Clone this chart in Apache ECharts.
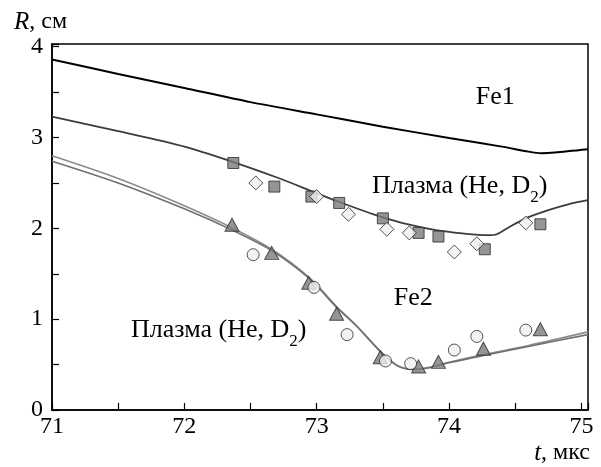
<!DOCTYPE html>
<html>
<head>
<meta charset="utf-8">
<script src="https://cdn.jsdelivr.net/npm/echarts@6/dist/echarts.min.js"></script>
<style>
html,body{margin:0;padding:0;background:#fff;}
#c{width:601px;height:467px;}
</style>
</head>
<body>
<div id="c"></div>
<script>
// ---- data ----
const xTickLabels = [71, 72, 73, 74, 75];
const yTickLabels = [0, 1, 2, 3, 4];

const fe1T = [71, 71.5, 72, 72.5, 73, 73.5, 74, 74.4, 74.6, 74.7, 74.8, 75.05];
const fe1R = [3.86, 3.70, 3.545, 3.39, 3.255, 3.12, 2.995, 2.90, 2.845, 2.828, 2.835, 2.87];

const plasmaT = [71, 71.5, 72, 72.37, 72.7, 72.98, 73.17, 73.5, 73.7, 73.9, 74.1, 74.3, 74.36, 74.45, 74.58, 74.75, 74.9, 75.05];
const plasmaR = [3.23, 3.07, 2.90, 2.73, 2.56, 2.40, 2.29, 2.12, 2.04, 1.98, 1.945, 1.925, 1.935, 2.01, 2.11, 2.20, 2.265, 2.31];

const fe2T  = [71, 71.5, 72, 72.37, 72.66, 72.95, 73.15, 73.3, 73.48, 73.6, 73.68, 73.75, 73.85, 74.0, 74.26, 74.6, 75.05];
const fe2aR = [2.80, 2.55, 2.25, 2.00, 1.77, 1.45, 1.14, 0.93, 0.65, 0.50, 0.455, 0.45, 0.47, 0.525, 0.61, 0.71, 0.86];
const fe2bR = [2.74, 2.50, 2.215, 1.975, 1.755, 1.44, 1.13, 0.925, 0.645, 0.495, 0.452, 0.447, 0.465, 0.52, 0.60, 0.70, 0.83];

const sqT = [72.37, 72.68, 72.96, 73.17, 73.5, 73.77, 73.92, 74.27, 74.69];
const sqR = [2.72, 2.46, 2.35, 2.28, 2.11, 1.95, 1.91, 1.77, 2.045];

const diT = [72.54, 73.0, 73.24, 73.53, 73.70, 74.04, 74.21, 74.58];
const diR = [2.50, 2.35, 2.155, 1.99, 1.95, 1.74, 1.83, 2.06];

const trT = [72.36, 72.66, 72.94, 73.15, 73.48, 73.77, 73.92, 74.26, 74.69];
const trR = [2.04, 1.73, 1.40, 1.06, 0.58, 0.48, 0.53, 0.675, 0.89];

const ciT = [72.52, 72.98, 73.23, 73.52, 73.71, 74.04, 74.21, 74.58];
const ciR = [1.71, 1.35, 0.83, 0.54, 0.51, 0.66, 0.81, 0.88];

// annotation positions (data coords)
const notes = [
  {t: 74.35, r: 3.45, text: 'Fe1'},
  {t: 74.08, r: 2.47, text: 'Плазма (He, D{s|2})'},
  {t: 73.73, r: 1.23, text: 'Fe2'},
  {t: 72.26, r: 0.88, text: 'Плазма (He, D{s|2})'}
];

const zip = (a, b) => a.map((v, i) => [v, b[i]]);
const FONT = 'Liberation Serif';

const chart = echarts.init(document.getElementById('c'), null, {renderer: 'canvas'});

const mk = (color, border) => ({color: color, borderColor: border, borderWidth: 1});

const option = {
  animation: false,
  backgroundColor: '#fff',
  grid: {left: 52, right: 13, top: 44, bottom: 57, show: true, borderColor: '#000', borderWidth: 1.5, backgroundColor: 'transparent'},
  xAxis: {
    type: 'value', min: 71, max: 75.05, interval: 0.5,
    axisLine: {show: true, lineStyle: {color: '#000', width: 1.5}},
    axisTick: {show: true, inside: true, length: 7, lineStyle: {color: '#000', width: 1.2}},
    splitLine: {show: false},
    axisLabel: {
      show: true, margin: 5, color: '#000', fontFamily: FONT, fontSize: 24,
      showMinLabel: true, showMaxLabel: true,
      formatter: v => (xTickLabels.indexOf(Math.round(v * 1000) / 1000) >= 0 ? String(Math.round(v)) : '')
    }
  },
  yAxis: {
    type: 'value', min: 0, max: 4.03, interval: 0.5,
    axisLine: {show: true, lineStyle: {color: '#000', width: 1.5}},
    axisTick: {show: true, inside: true, length: 7, lineStyle: {color: '#000', width: 1.2}},
    splitLine: {show: false},
    axisLabel: {
      show: true, margin: 9, color: '#000', fontFamily: FONT, fontSize: 24,
      showMinLabel: true, showMaxLabel: true,
      formatter: v => (yTickLabels.indexOf(Math.round(v * 1000) / 1000) >= 0 ? String(Math.round(v)) : '')
    }
  },
  series: [
    {type: 'line', data: zip(fe1T, fe1R), showSymbol: false, smooth: 0.25, lineStyle: {color: '#000', width: 2}, z: 2},
    {type: 'line', data: zip(plasmaT, plasmaR), showSymbol: false, smooth: 0.3, lineStyle: {color: '#3c3c3c', width: 1.8}, z: 2},
    {type: 'line', data: zip(fe2T, fe2aR), showSymbol: false, smooth: 0.3, lineStyle: {color: '#8c8c8c', width: 1.6}, z: 2},
    {type: 'line', data: zip(fe2T, fe2bR), showSymbol: false, smooth: 0.3, lineStyle: {color: '#707070', width: 1.6}, z: 2},
    {type: 'scatter', data: zip(sqT, sqR), symbol: 'rect', symbolSize: 11, itemStyle: mk('#7a7a7a', '#2a2a2a'), z: 3},
    {type: 'scatter', data: zip(diT, diR), symbol: 'diamond', symbolSize: 14, itemStyle: mk('#efefef', '#2a2a2a'), z: 4},
    {type: 'scatter', data: zip(trT, trR), symbol: 'triangle', symbolSize: [14, 13], itemStyle: mk('#7a7a7a', '#2a2a2a'), z: 3},
    {type: 'scatter', data: zip(ciT, ciR), symbol: 'circle', symbolSize: 12, itemStyle: mk('#efefef', '#2a2a2a'), z: 4}
  ]
};
chart.setOption(option);

const graphics = notes.map(n => {
  const p = chart.convertToPixel({gridIndex: 0}, [n.t, n.r]);
  return {
    type: 'text', x: p[0], y: p[1], z: 10,
    style: {text: n.text, fill: '#000', fontFamily: FONT, fontSize: 26, align: 'center', verticalAlign: 'middle',
      rich: {s: {fontFamily: FONT, fontSize: 17, verticalAlign: 'bottom', padding: [0, 0, -7, 0], fill: '#000'}}}
  };
});
graphics.push({
  type: 'text', x: 14, y: 22, z: 10,
  style: {text: '{i|R}, см', verticalAlign: 'middle', fill: '#000', fontFamily: FONT, fontSize: 24,
    rich: {i: {fontFamily: FONT, fontStyle: 'italic', fontSize: 25, fill: '#000'}}}
});
graphics.push({
  type: 'text', x: 590, y: 453, z: 10,
  style: {text: '{i|t}, мкс', align: 'right', verticalAlign: 'middle', fill: '#000', fontFamily: FONT, fontSize: 24,
    rich: {i: {fontFamily: FONT, fontStyle: 'italic', fontSize: 25, fill: '#000'}}}
});
chart.setOption({graphic: graphics});
</script>
</body>
</html>
